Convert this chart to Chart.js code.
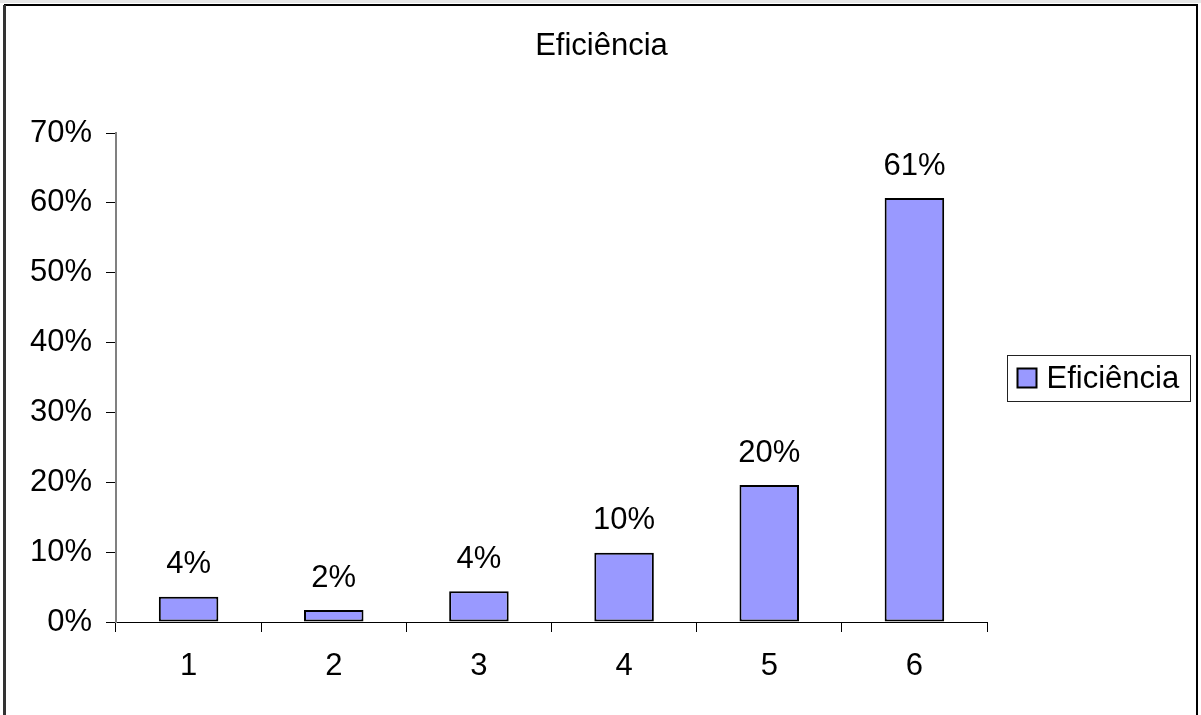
<!DOCTYPE html>
<html>
<head>
<meta charset="utf-8">
<title>Eficiência</title>
<script src="https://cdn.jsdelivr.net/npm/chart.js@4/dist/chart.umd.min.js"></script>
<style>
  html,body{margin:0;padding:0;background:#fff;}
  #wrap{width:1201px;height:715px;position:relative;}
</style>
</head>
<body>
<div id="wrap"><canvas id="effChart" width="1201" height="715"></canvas></div>
<script>
const categories = ['1','2','3','4','5','6'];
const efficiency = [0.036, 0.017, 0.044, 0.099, 0.196, 0.607];
const yTicks = [0, 0.1, 0.2, 0.3, 0.4, 0.5, 0.6, 0.7];
const seriesName = 'Eficiência';
const chartTitle = 'Eficiência';

document.addEventListener('DOMContentLoaded', function(){
  const ctx = document.getElementById('effChart').getContext('2d');
  const FONT = 'Liberation Sans, Arial, sans-serif';
  const SIZE = 31;
  const pct = v => Math.round(v*100) + '%';

  // white page, outer frame and the title (centred on the whole chart, not the plot)
  const frame = {
    id:'frame',
    beforeDraw(chart){
      const c = chart.ctx;
      c.save();
      c.fillStyle = '#fff';
      c.fillRect(0,0,chart.width,chart.height);
      c.fillStyle = '#e6e6e6';
      c.fillRect(0,0,chart.width,3);
      c.strokeStyle = '#000';
      c.lineWidth = 2;
      c.strokeRect(5,5,1192,800);
      c.fillStyle = '#333';
      c.fillRect(3,5,3,chart.height);
      c.font = SIZE + 'px ' + FONT;
      c.fillStyle = '#000';
      c.textAlign = 'center';
      c.textBaseline = 'middle';
      c.fillText(chartTitle, chart.width/2 + 1, 46);
      c.restore();
    }
  };

  // value labels above bars
  const barLabels = {
    id:'barLabels',
    afterDatasetsDraw(chart){
      const c = chart.ctx;
      const meta = chart.getDatasetMeta(0);
      c.save();
      c.font = SIZE + 'px ' + FONT;
      c.fillStyle = '#000';
      c.textAlign = 'center';
      c.textBaseline = 'middle';
      meta.data.forEach((bar,i)=>{
        c.fillText(pct(efficiency[i]), bar.x, bar.y - 32);
      });
      c.restore();
    }
  };

  // boxed legend on the right
  const boxLegend = {
    id:'boxLegend',
    afterDraw(chart){
      const c = chart.ctx;
      const a = chart.chartArea;
      const cy = Math.round((a.top + a.bottom)/2) + 0.5;
      const x0 = a.right + 20.5;
      c.save();
      c.strokeStyle = '#222';
      c.lineWidth = 1;
      c.strokeRect(x0, cy - 23, 183, 46);
      c.fillStyle = '#9999ff';
      c.fillRect(x0 + 10, cy - 10, 19, 19);
      c.strokeStyle = '#000';
      c.lineWidth = 2;
      c.strokeRect(x0 + 10, cy - 10, 19, 19);
      c.font = SIZE + 'px ' + FONT;
      c.fillStyle = '#000';
      c.textAlign = 'left';
      c.textBaseline = 'middle';
      c.fillText(seriesName, x0 + 39, cy + 1);
      c.restore();
    }
  };

  new Chart(ctx,{
    type:'bar',
    data:{
      labels:categories,
      datasets:[{
        label:seriesName,
        data:efficiency,
        backgroundColor:'#9999ff',
        borderColor:'#000',
        borderWidth:2,
        borderSkipped:false,
        barPercentage:0.41,
        categoryPercentage:1
      }]
    },
    options:{
      responsive:false,
      animation:false,
      layout:{padding:{left:5,right:214,top:133,bottom:0}},
      plugins:{
        legend:{display:false},
        tooltip:{enabled:false},
        title:{display:false}
      },
      scales:{
        x:{
          afterFit(s){ s.height = 93; },
          grid:{drawOnChartArea:false,tickLength:10,color:'#000',offset:true},
          border:{color:'#000',width:1},
          ticks:{color:'#000',font:{family:FONT,size:SIZE},padding:16}
        },
        y:{
          min:0,max:0.7,
          afterFit(s){ s.width = 111; },
          afterBuildTicks(s){ s.ticks = yTicks.map(v=>({value:v})); },
          grid:{drawOnChartArea:false,tickLength:10,color:'#000'},
          border:{color:'#808080',width:2},
          ticks:{color:'#000',font:{family:FONT,size:SIZE},padding:14,callback:v=>pct(v)}
        }
      }
    },
    plugins:[frame,barLabels,boxLegend]
  });
});
</script>
</body>
</html>
